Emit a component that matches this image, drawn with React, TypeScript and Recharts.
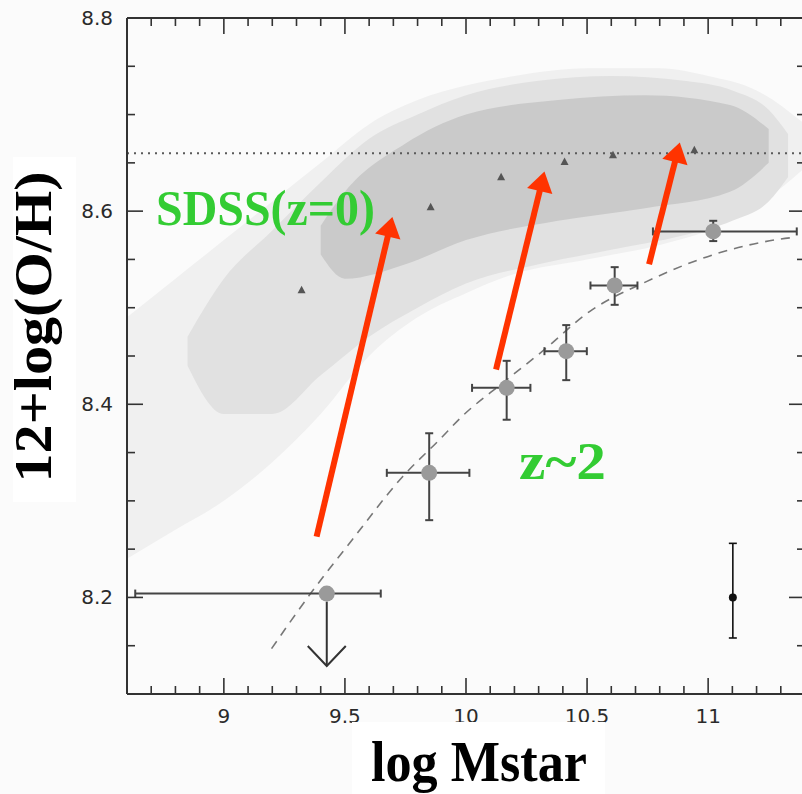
import React from 'react'
import {
  ComposedChart, XAxis, YAxis, Area, Line, Scatter, ErrorBar, ReferenceLine,
} from 'recharts'

// axis ticks
const xTicks = [8.6, 8.7, 8.8, 8.9, 9, 9.1, 9.2, 9.3, 9.4, 9.5, 9.6, 9.7, 9.8, 9.9, 10, 10.1, 10.2, 10.3, 10.4, 10.5, 10.6, 10.7, 10.8, 10.9, 11, 11.1, 11.2, 11.3, 11.4]
const xMajor = [9, 9.5, 10, 10.5, 11]
const yTicks = [8.1, 8.15, 8.2, 8.25, 8.3, 8.35, 8.4, 8.45, 8.5, 8.55, 8.6, 8.65, 8.7, 8.75, 8.8]
const yMajor = [8.2, 8.4, 8.6, 8.8]
const xDomain = [8.6, 11.4]
const yDomain = [8.1, 8.8]

// SDSS cloud, drawn as density bands (x, low, high)
const sparseX = [8.6, 8.8, 9.0, 9.2, 9.4, 9.6, 9.8, 10.0, 10.2, 10.5, 10.8, 11.0, 11.2, 11.4]
const sparseLo = [8.24, 8.27, 8.3, 8.34, 8.39, 8.45, 8.49, 8.515, 8.535, 8.55, 8.565, 8.58, 8.605, 8.645]
const sparseHi = [8.49, 8.53, 8.57, 8.61, 8.65, 8.69, 8.715, 8.73, 8.74, 8.748, 8.748, 8.74, 8.725, 8.69]

const midX = [8.85, 9.0, 9.2, 9.4, 9.6, 9.8, 10.0, 10.3, 10.6, 10.9, 11.1, 11.25, 11.33]
const midLo = [8.44, 8.39, 8.39, 8.43, 8.47, 8.5, 8.525, 8.545, 8.56, 8.575, 8.59, 8.61, 8.635]
const midHi = [8.47, 8.53, 8.58, 8.63, 8.675, 8.7, 8.72, 8.735, 8.74, 8.735, 8.725, 8.705, 8.68]

const coreX = [9.4, 9.5, 9.75, 10.0, 10.38, 10.74, 11.09, 11.25]
const coreLo = [8.555, 8.53, 8.545, 8.57, 8.59, 8.603, 8.62, 8.65]
const coreHi = [8.585, 8.62, 8.67, 8.7, 8.715, 8.72, 8.71, 8.685]

// SDSS medians (triangles)
const medX = [9.321, 9.854, 10.145, 10.407, 10.607, 10.943]
const medY = [8.518, 8.604, 8.635, 8.651, 8.658, 8.663]

// solar line
const solarOH = 8.66

// z~2 fit (dashed curve)
const fitX = [9.197, 9.358, 9.531, 9.738, 9.889, 9.986, 10.151, 10.321, 10.51, 10.745, 11.035, 11.297, 11.36]
const fitY = [8.147, 8.204, 8.26, 8.325, 8.363, 8.388, 8.422, 8.456, 8.496, 8.527, 8.556, 8.571, 8.573]

// z~2 stacked points
const zX = [9.848, 10.168, 10.414, 10.614, 11.021]
const zY = [8.329, 8.417, 8.455, 8.523, 8.579]
const zXLo = [9.673, 10.025, 10.324, 10.514, 10.772]
const zXHi = [10.014, 10.266, 10.499, 10.708, 11.366]
const zYLo = [8.28, 8.384, 8.425, 8.503, 8.569]
const zYHi = [8.37, 8.445, 8.482, 8.542, 8.59]

// lowest-mass bin: upper limit
const limX = 9.425
const limY = 8.204
const limXLo = 8.634
const limXHi = 9.648
const limTip = 8.129

// typical error
const errX = 11.102
const errY = 8.2
const errYLo = 8.158
const errYHi = 8.256

// red evolution arrows [x1, y1, x2, y2]
const arrows = [
  [9.383, 8.263, 9.696, 8.594],
  [10.124, 8.436, 10.324, 8.641],
  [10.756, 8.545, 10.883, 8.671],
]

const band = (xs: number[], lo: number[], hi: number[]) => xs.map((x, i) => ({ x, r: [lo[i], hi[i]] }))
const sparseData = band(sparseX, sparseLo, sparseHi)
const midData = band(midX, midLo, midHi)
const coreData = band(coreX, coreLo, coreHi)
const medData = medX.map((x, i) => ({ x, y: medY[i] }))
const fitData = fitX.map((x, i) => ({ x, y: fitY[i] }))
const zData = zX.map((x, i) => ({
  x, y: zY[i], ex: [x - zXLo[i], zXHi[i] - x], ey: [zY[i] - zYLo[i], zYHi[i] - zY[i]],
}))
const limData = [{ x: limX, y: limY, ex: [limX - limXLo, limXHi - limX] }]
const errData = [{ x: errX, y: errY, ey: [errY - errYLo, errYHi - errY] }]

// plot frame (px)
const W = 810
const H = 794
const M = { top: 18, right: 5, bottom: 70, left: 67 }
const TOP = M.top
const BOTTOM = H - M.bottom - 30
const LEFT = M.left + 60
const RIGHT = W - M.right
const px = (v: number) => LEFT + ((v - xDomain[0]) / (xDomain[1] - xDomain[0])) * (RIGHT - LEFT)
const py = (v: number) => BOTTOM - ((v - yDomain[0]) / (yDomain[1] - yDomain[0])) * (BOTTOM - TOP)

const AX = '#333'
const TICK_FONT = { fontFamily: 'DejaVu Sans', fontSize: 20, fill: '#2a2a2a' }
const isMajor = (v: number, list: number[]) => list.some((m) => Math.abs(m - v) < 1e-6)

const BottomTick = (p: any) => {
  const v = p.payload.value
  const big = isMajor(v, xMajor)
  return (
    <g>
      <line x1={p.x} x2={p.x} y1={BOTTOM} y2={BOTTOM - (big ? 16 : 8)} stroke={AX} strokeWidth={1.6} />
      {big && <text x={p.x} y={BOTTOM + 29} textAnchor="middle" {...TICK_FONT}>{v}</text>}
    </g>
  )
}
const LeftTick = (p: any) => {
  const v = p.payload.value
  const big = isMajor(v, yMajor)
  return (
    <g>
      <line x1={LEFT} x2={LEFT + (big ? 16 : 8)} y1={p.y} y2={p.y} stroke={AX} strokeWidth={1.6} />
      {big && <text x={LEFT - 14} y={p.y + 7} textAnchor="end" {...TICK_FONT}>{v.toFixed(1)}</text>}
    </g>
  )
}

const RedArrow = (p: any) => {
  const { x1, y1, x2, y2 } = p
  const dx = x2 - x1
  const dy = y2 - y1
  const len = Math.hypot(dx, dy)
  const ux = dx / len
  const uy = dy / len
  const head = 20
  const hw = 13
  const bx = x2 - ux * head
  const by = y2 - uy * head
  return (
    <g>
      <line x1={x1} y1={y1} x2={bx + ux * 2} y2={by + uy * 2} stroke="#ff3300" strokeWidth={6} />
      <polygon
        points={`${x2},${y2} ${bx - uy * hw},${by + ux * hw} ${bx + uy * hw},${by - ux * hw}`}
        fill="#ff3300"
      />
    </g>
  )
}

const LimitArrow = (p: any) => {
  const { x1, y1, x2, y2 } = p
  return (
    <g stroke="#333" strokeWidth={2} fill="none">
      <line x1={x1} y1={y1 + 8} x2={x2} y2={y2} />
      <polyline points={`${x2 - 19},${y2 - 20} ${x2},${y2} ${x2 + 19},${y2 - 20}`} />
    </g>
  )
}

const GrayDot = (p: any) => <circle cx={p.cx} cy={p.cy} r={8} fill="#9a9a9a" />
const BlackDot = (p: any) => <circle cx={p.cx} cy={p.cy} r={4} fill="#111" />
const Tri = (p: any) => (
  <polygon points={`${p.cx},${p.cy - 4.5} ${p.cx - 4},${p.cy + 3} ${p.cx + 4},${p.cy + 3}`} fill="#555" />
)

export default function App() {
  return (
    <div style={{ position: 'absolute', left: 0, top: 0, width: 802, height: 794, overflow: 'hidden', background: '#fbfbfb' }}>
      <ComposedChart width={W} height={H} margin={M}>
        <Area data={sparseData} dataKey="r" type="monotone" stroke="none" fill="#f0f0f0" fillOpacity={1} isAnimationActive={false} />
        <Area data={midData} dataKey="r" type="monotone" stroke="none" fill="#e1e1e1" fillOpacity={1} isAnimationActive={false} />
        <Area data={coreData} dataKey="r" type="monotone" stroke="none" fill="#cacaca" fillOpacity={1} isAnimationActive={false} />

        <XAxis dataKey="x" type="number" domain={xDomain} allowDataOverflow ticks={xTicks} interval={0}
          tickLine={false} axisLine={{ stroke: AX, strokeWidth: 2 }} height={30}
          tick={(p: any) => <BottomTick {...p} />} />
        <YAxis type="number" domain={yDomain} allowDataOverflow ticks={yTicks} interval={0}
          tickLine={false} axisLine={{ stroke: AX, strokeWidth: 2 }} width={60}
          tick={(p: any) => <LeftTick {...p} />} />

        <ReferenceLine y={solarOH} stroke="#5a5a5a" strokeWidth={2} strokeDasharray="2 5" />

        <Line data={fitData} dataKey="y" type="monotone" stroke="#777" strokeWidth={1.6} strokeDasharray="9 7"
          dot={false} activeDot={false} isAnimationActive={false} />

        <Scatter data={medData} dataKey="y" shape={Tri} isAnimationActive={false} />

        <Scatter data={zData} dataKey="y" shape={GrayDot} isAnimationActive={false}>
          <ErrorBar dataKey="ex" direction="x" width={4} stroke="#444" strokeWidth={2} />
          <ErrorBar dataKey="ey" direction="y" width={4} stroke="#444" strokeWidth={2} />
        </Scatter>
        <ReferenceLine segment={[{ x: limX, y: limY }, { x: limX, y: limTip }]} shape={LimitArrow} />
        <Scatter data={limData} dataKey="y" shape={GrayDot} isAnimationActive={false}>
          <ErrorBar dataKey="ex" direction="x" width={4} stroke="#444" strokeWidth={2} />
        </Scatter>
        <Scatter data={errData} dataKey="y" shape={BlackDot} isAnimationActive={false}>
          <ErrorBar dataKey="ey" direction="y" width={4} stroke="#111" strokeWidth={1.6} />
        </Scatter>

        {arrows.map((a, i) => (
          <ReferenceLine key={i} segment={[{ x: a[0], y: a[1] }, { x: a[2], y: a[3] }]} shape={RedArrow} />
        ))}
      </ComposedChart>

      <svg width={802} height={794} style={{ position: 'absolute', left: 0, top: 0, pointerEvents: 'none' }}>
        {/* top and right frame with inward ticks */}
        <line x1={LEFT} x2={RIGHT} y1={TOP} y2={TOP} stroke={AX} strokeWidth={2.2} />
        <line x1={RIGHT} x2={RIGHT} y1={TOP} y2={BOTTOM} stroke={AX} strokeWidth={2.2} />
        {xTicks.map((v) => (
          <line key={`t${v}`} x1={px(v)} x2={px(v)} y1={TOP} y2={TOP + (isMajor(v, xMajor) ? 16 : 8)}
            stroke={AX} strokeWidth={1.6} />
        ))}
        {yTicks.map((v) => (
          <line key={`r${v}`} x1={RIGHT} x2={RIGHT - (isMajor(v, yMajor) ? 16 : 8)} y1={py(v)} y2={py(v)}
            stroke={AX} strokeWidth={1.6} />
        ))}

        <rect x={13} y={157} width={63} height={345} fill="#fff" />
        <rect x={352} y={722} width={253} height={72} fill="#fff" />
        <text transform="translate(51,327) rotate(-90)" textAnchor="middle" textLength={311} lengthAdjust="spacingAndGlyphs"
          fontFamily="Liberation Serif" fontWeight="bold" fontSize={53} fill="#000">12+log(O/H)</text>
        <text x={371} y={781} textLength={216} lengthAdjust="spacingAndGlyphs"
          fontFamily="Liberation Serif" fontWeight="bold" fontSize={57} fill="#000">log Mstar</text>
        <text x={156} y={225} textLength={219} lengthAdjust="spacingAndGlyphs"
          fontFamily="Liberation Serif" fontWeight="bold" fontSize={51} fill="#33cc33">SDSS(z=0)</text>
        <text x={519} y={479} textLength={87} lengthAdjust="spacingAndGlyphs"
          fontFamily="Liberation Serif" fontWeight="bold" fontSize={52} fill="#33cc33">z~2</text>
      </svg>
    </div>
  )
}
